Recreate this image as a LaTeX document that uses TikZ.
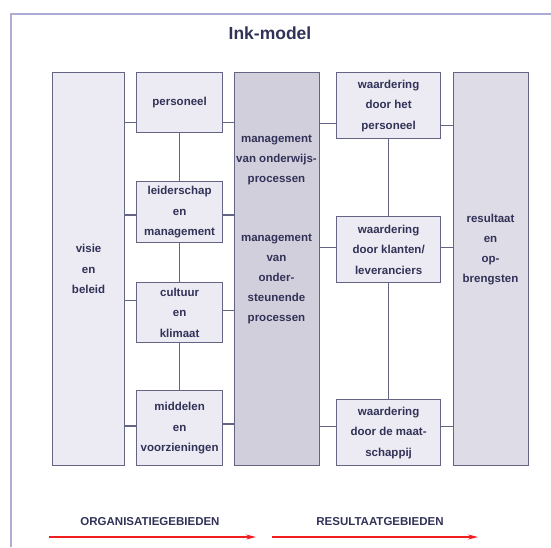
\documentclass[tikz,border=0pt]{standalone}
\usepackage{fontspec}
\setmainfont{Liberation Sans}
\usetikzlibrary{arrows.meta}
\definecolor{ink}{RGB}{50,50,88}
\definecolor{rim}{RGB}{100,100,132}
\definecolor{lightfill}{RGB}{236,235,243}
\definecolor{darkfill}{RGB}{210,207,221}
\definecolor{midfill}{RGB}{222,220,230}
\definecolor{frame}{RGB}{172,172,212}
\definecolor{arrowred}{RGB}{240,30,30}
\tikzset{
  box/.style={draw=rim, line width=1.2pt, fill=lightfill, anchor=north west,
    inner sep=0pt, align=center, text=ink,
    font=\fontsize{11.5}{20.5}\selectfont\bfseries},
  txt/.style={text=ink, align=center, inner sep=0pt,
    font=\fontsize{11.5}{20}\selectfont\bfseries},
  link/.style={draw=rim, line width=1.6pt}
}

\begin{document}
\begin{tikzpicture}[x=1pt,y=-1pt]
  \useasboundingbox (0,0) rectangle (551,547);
  \draw[frame, line width=1.5pt] (11,547) -- (11,14) -- (551,14);
  \node[text=ink, font=\fontsize{17.5}{20}\selectfont\bfseries] (title) at (270,33) {Ink-model};

  % organisatiegebieden
  \node[box, minimum width=72, minimum height=393] (visie) at (52,72) {visie\\en\\beleid};
  \node[box, minimum width=86, minimum height=60] (pers) at (136,72) {personeel};
  \node[box, minimum width=86, minimum height=61] (leid) at (136,181) {leiderschap\\en\\management};
  \node[box, minimum width=86, minimum height=60] (cult) at (136,282) {cultuur\\en\\klimaat};
  \node[box, minimum width=86, minimum height=75] (midd) at (136,390) {middelen\\en\\voorzieningen};
  \node[box, fill=darkfill, minimum width=85, minimum height=393] (proc) at (234,72) {};
  \node[txt] (proc1) at (276.5,159.5) {management\\van onderwijs-\\processen};
  \node[txt] (proc2) at (276.5,279) {management\\van\\onder-\\steunende\\processen};

  % resultaatgebieden
  \node[box, minimum width=104, minimum height=66] (wpers) at (336,72) {waardering\\door het\\personeel};
  \node[box, minimum width=104, minimum height=66] (wklant) at (336,216) {waardering\\door klanten/\\leveranciers};
  \node[box, minimum width=104, minimum height=66] (wmaat) at (336,399) {waardering\\door de maat-\\schappij};
  \node[box, fill=midfill, minimum width=75, minimum height=393] (res) at (453,72) {};
  \node[txt] (res1) at (490.5,250) {resultaat\\en\\op-\\brengsten};

  \draw[link] (pers.south) -- (leid.north);
  \draw[link] (leid.south) -- (cult.north);
  \draw[link] (cult.south) -- (midd.north);
  \draw[link] (wpers.south) -- (wklant.north);
  \draw[link] (wklant.south) -- (wmaat.north);

  % korte verbindingen naar de kolommen
  \foreach \b/\l/\r/\dl/\dr in {pers/visie/proc/-20/-20, leid/visie/proc/-3/-3,
      cult/visie/proc/12/2, midd/visie/proc/2/4, wpers/proc/res/-18/-20,
      wklant/proc/res/2/2, wmaat/proc/res/6/6} {
    \coordinate (\b-l) at ([yshift=\dl pt]\b.west);
    \coordinate (\b-r) at ([yshift=\dr pt]\b.east);
    \draw[link] (\b-l) -- (\l.east |- \b-l);
    \draw[link] (\b-r) -- (\r.west |- \b-r);
  }

  % gebieden
  \node[txt] (org) at (150,522) {ORGANISATIEGEBIEDEN};
  \node[txt] (rsl) at (380,522) {RESULTAATGEBIEDEN};
  \coordinate (orgA) at (49,537);
  \coordinate (orgB) at (256,537);
  \coordinate (rslA) at (272,537);
  \coordinate (rslB) at (478,537);
  \draw[arrowred, line width=1.4pt, -{Stealth[length=10pt,width=5pt]}] (orgA) -- (orgB);
  \draw[arrowred, line width=1.4pt, -{Stealth[length=10pt,width=5pt]}] (rslA) -- (rslB);
\end{tikzpicture}
\end{document}
